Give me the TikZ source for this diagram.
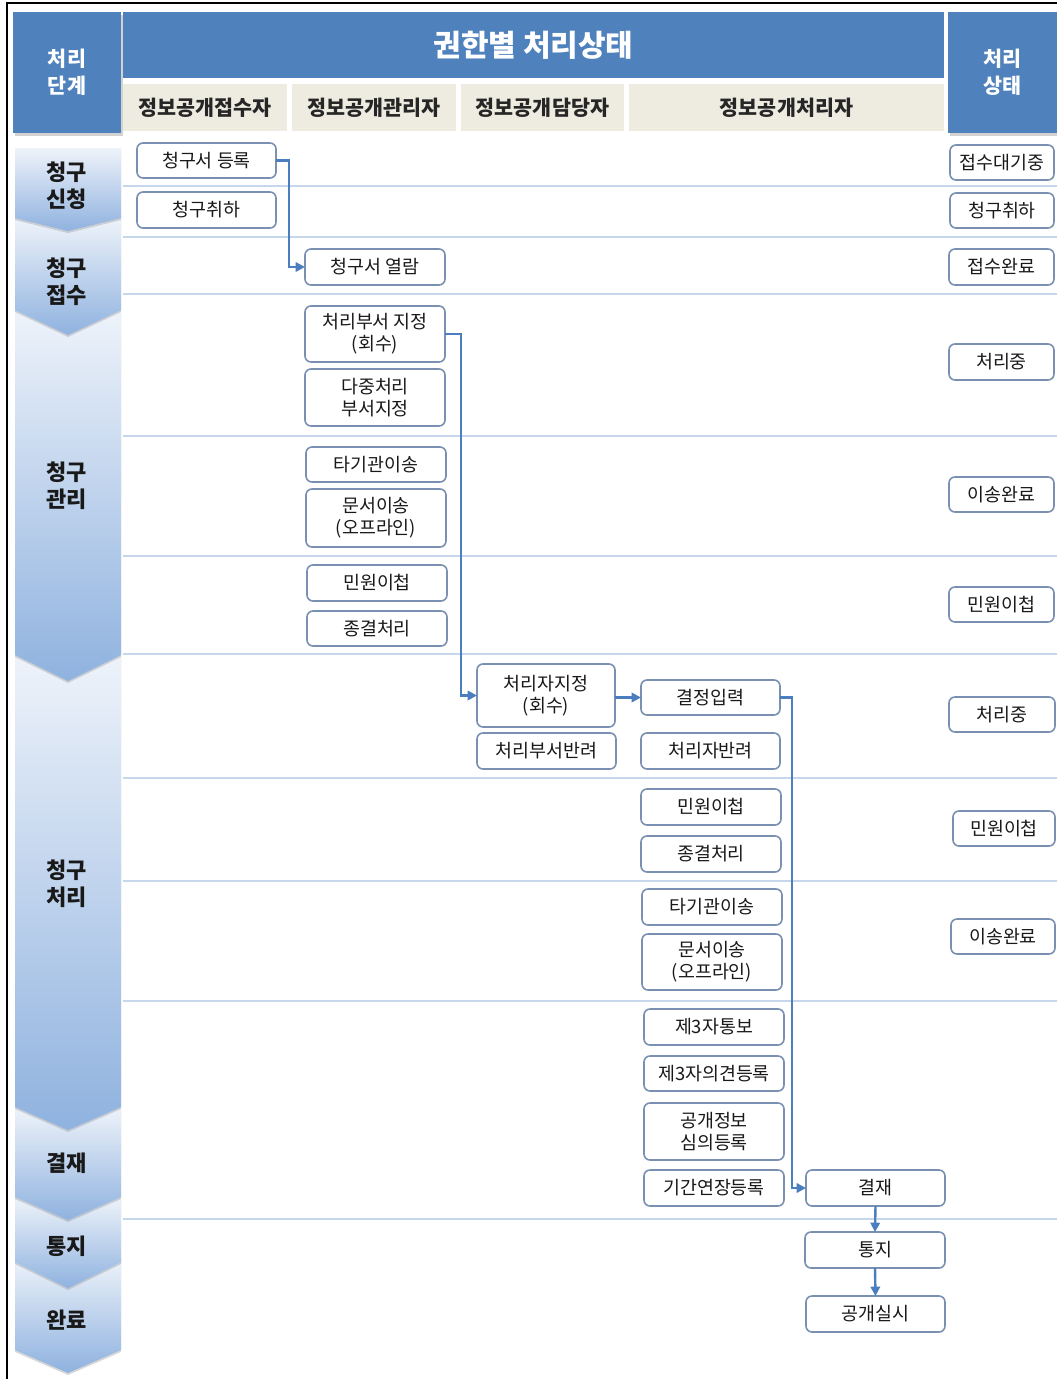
\documentclass[tikz,border=0pt]{standalone}
\usepackage{fontspec}
\setmainfont{Noto Sans CJK KR}
\usetikzlibrary{shadows,arrows.meta}
\definecolor{hblue}{HTML}{4F81BD}
\definecolor{beige}{HTML}{EEECE1}
\definecolor{rowline}{HTML}{C6D6EB}
\definecolor{boxline}{HTML}{7A90B2}
\definecolor{connc}{HTML}{4A7EBE}
\definecolor{chevtop}{HTML}{EEF3FA}
\definecolor{chevbot}{HTML}{8FB2DF}
\tikzset{
 boxst/.style={draw=boxline, line width=1.2pt, rounded corners=4.5pt, fill=white, inner sep=0pt, outer sep=0pt, align=center, font=\fontsize{13.8}{16.5}\selectfont, text=black!90},
 hdrst/.style={fill=hblue, inner sep=0pt, outer sep=0pt, text=white, align=center, font=\bfseries\fontsize{15.5}{20}\selectfont},
 shad/.style={drop shadow={shadow xshift=1.5pt, shadow yshift=-2pt, opacity=0.35}},
 subst/.style={fill=beige, inner sep=0pt, outer sep=0pt, font=\bfseries\fontsize{15.5}{18}\selectfont, text=black!85},
 rowst/.style={draw=rowline, line width=0.9pt},
 connst/.style={draw=connc, line width=1.8pt, -{Triangle[length=7pt,width=7pt]}},
 chev/.style={top color=chevtop, bottom color=chevbot, drop shadow={shadow xshift=0pt, shadow yshift=-1.5pt, opacity=0.3}},
 lblst/.style={font=\bfseries\fontsize{16.5}{20}\selectfont, align=center, text=black!90}
}
\newcommand\rnode[7]{\node[#1, minimum width={(#5-#3)*0.75pt}, minimum height={(#6-#4)*0.75pt}] (#2) at ({(#3+#5)/2},{(#4+#6)/2}) {#7};}
\begin{document}
\begin{tikzpicture}[x={(0.75pt,0pt)}, y={(0pt,-0.75pt)}]
\useasboundingbox (0,0) rectangle (1057,1379);
\fill[white] (0,0) rectangle (1057,1379);
% frame
\draw[black, line width=1.1pt] (7,1379) -- (7,3) -- (1057,3);
% row lines
\foreach \yy in {186,237,294,436,556,654,778,881,1001,1219}
  \draw[rowst] (123,\yy) -- (1057,\yy);
% chevrons (bottom first)
\path[chev] (15,1257) -- (121,1257) -- (121,1350) -- (68,1373) -- (15,1350) -- cycle;
\path[chev] (15,1197) -- (121,1197) -- (121,1262) -- (68,1288) -- (15,1262) -- cycle;
\path[chev] (15,1107) -- (121,1107) -- (121,1197) -- (68,1220) -- (15,1197) -- cycle;
\path[chev] (15,655) -- (121,655) -- (121,1107) -- (68,1130) -- (15,1107) -- cycle;
\path[chev] (15,310) -- (121,310) -- (121,655) -- (68,681) -- (15,655) -- cycle;
\path[chev] (15,218) -- (121,218) -- (121,310) -- (68,335) -- (15,310) -- cycle;
\path[chev] (15,148) -- (121,148) -- (121,218) -- (68,231) -- (15,218) -- cycle;
\node[lblst] (l1) at (67,186) {청구\\신청};
\node[lblst] (l2) at (67,282) {청구\\접수};
\node[lblst] (l3) at (67,486) {청구\\관리};
\node[lblst] (l4) at (67,884) {청구\\처리};
\node[lblst] (l5) at (67,1163) {결재};
\node[lblst] (l6) at (67,1246) {통지};
\node[lblst] (l7) at (67,1320) {완료};
% headers
\rnode{hdrst,shad}{hL}{13}{12}{121}{133}{처리\\단계}
\rnode{hdrst,shad}{hR}{948}{12}{1057}{133}{처리\\상태}
\rnode{hdrst,font=\bfseries\fontsize{22.5}{26}\selectfont}{hT}{123}{12}{944}{78}{권한별 처리상태}
\rnode{subst}{c1}{123}{84}{287}{131}{정보공개접수자}
\rnode{subst}{c2}{292}{84}{456}{131}{정보공개관리자}
\rnode{subst}{c3}{461}{84}{624}{131}{정보공개담당자}
\rnode{subst}{c4}{629}{84}{944}{131}{정보공개처리자}
% column 1
\rnode{boxst}{reg}{137}{143}{276}{178}{청구서 등록}
\rnode{boxst}{cancel}{137}{192}{276}{228}{청구취하}
% column 2
\rnode{boxst}{view}{305}{249}{445}{285}{청구서 열람}
\rnode{boxst}{dept}{305}{306}{445}{362}{처리부서 지정\\(회수)}
\rnode{boxst}{multi}{305}{369}{445}{426}{다중처리\\부서지정}
\rnode{boxst}{tr1}{306}{447}{446}{482}{타기관이송}
\rnode{boxst}{doc1}{306}{489}{446}{547}{문서이송\\(오프라인)}
\rnode{boxst}{civ1}{307}{565}{447}{601}{민원이첩}
\rnode{boxst}{end1}{307}{611}{447}{646}{종결처리}
% column 3
\rnode{boxst}{asg}{477}{664}{615}{727}{처리자지정\\(회수)}
\rnode{boxst}{dret}{477}{733}{616}{769}{처리부서반려}
% column 4
\rnode{boxst}{dec}{641}{680}{780}{715}{결정입력}
\rnode{boxst}{pret}{641}{733}{780}{769}{처리자반려}
\rnode{boxst}{civ2}{641}{789}{781}{825}{민원이첩}
\rnode{boxst}{end2}{641}{836}{781}{872}{종결처리}
\rnode{boxst}{tr2}{642}{889}{782}{925}{타기관이송}
\rnode{boxst}{doc2}{642}{934}{782}{990}{문서이송\\(오프라인)}
\rnode{boxst}{tp1}{644}{1009}{784}{1045}{제3자통보}
\rnode{boxst}{tp2}{644}{1056}{784}{1091}{제3자의견등록}
\rnode{boxst}{rev}{644}{1103}{784}{1160}{공개정보\\심의등록}
\rnode{boxst}{ext}{644}{1170}{784}{1206}{기간연장등록}
% column 5
\rnode{boxst}{appr}{806}{1170}{945}{1206}{결재}
\rnode{boxst}{noti}{805}{1232}{945}{1268}{통지}
\rnode{boxst}{disc}{806}{1296}{945}{1332}{공개실시}
% status
\rnode{boxst}{s1}{950}{145}{1054}{180}{접수대기중}
\rnode{boxst}{s2}{950}{193}{1054}{228}{청구취하}
\rnode{boxst}{s3}{949}{249}{1054}{285}{접수완료}
\rnode{boxst}{s4}{949}{344}{1054}{380}{처리중}
\rnode{boxst}{s5}{949}{477}{1054}{512}{이송완료}
\rnode{boxst}{s6}{949}{587}{1054}{622}{민원이첩}
\rnode{boxst}{s7}{949}{697}{1055}{732}{처리중}
\rnode{boxst}{s8}{953}{811}{1055}{846}{민원이첩}
\rnode{boxst}{s9}{951}{919}{1055}{954}{이송완료}
% connectors
\draw[connst] (reg.east) -- ++(13,0) |- (view.west);
\draw[connst] (dept.east) -- ++(16,0) |- (asg.west);
\draw[connst] (asg.east |- dec.west) -- (dec.west);
\draw[connst] (dec.east) -- ++(12,0) |- (appr.west);
\draw[connst] (appr.south) -- (noti.north);
\draw[connst] (noti.south) -- (disc.north);
\end{tikzpicture}
\end{document}
